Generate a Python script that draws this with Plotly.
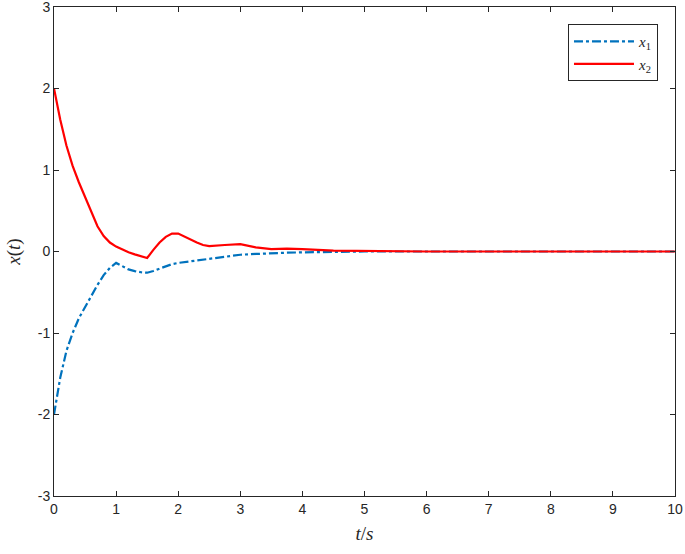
import plotly.graph_objects as go

t = [0, 0.1, 0.2, 0.3, 0.4, 0.5, 0.6, 0.7, 0.8, 0.9, 1.0, 1.1, 1.2, 1.3, 1.4, 1.5,
     1.6, 1.7, 1.8, 1.9, 2.0, 2.1, 2.2, 2.3, 2.4, 2.5, 2.75, 3.0, 3.25, 3.5, 3.75,
     4.0, 4.5, 5, 6, 7, 8, 9, 10]

x1 = [-2.0, -1.55, -1.22, -1.0, -0.82, -0.68, -0.54, -0.41, -0.29, -0.2, -0.14,
      -0.18, -0.22, -0.24, -0.255, -0.26, -0.24, -0.21, -0.18, -0.155, -0.14,
      -0.13, -0.125, -0.115, -0.105, -0.095, -0.065, -0.04, -0.03, -0.02, -0.015,
      -0.01, -0.005, 0, 0, 0, 0, 0, 0]

x2 = [2.0, 1.62, 1.3, 1.05, 0.85, 0.67, 0.47, 0.31, 0.19, 0.11, 0.06, 0.02, -0.01,
      -0.035, -0.06, -0.08, 0.02, 0.11, 0.18, 0.22, 0.22, 0.18, 0.14, 0.11, 0.08,
      0.065, 0.08, 0.09, 0.05, 0.03, 0.035, 0.03, 0.01, 0.005, 0, 0, 0, 0, 0]

x_ticks = [0, 1, 2, 3, 4, 5, 6, 7, 8, 9, 10]
y_ticks = [-3, -2, -1, 0, 1, 2, 3]
y_ticktext = ["-3", "-2", "-1", "0", "1", "2", "3"]

fig = go.Figure()
fig.add_trace(go.Scatter(x=t, y=x1, mode="lines", name="<i>x</i><sub>1</sub>",
                         line=dict(color="#0072BD", width=2.2, dash="dashdot")))
fig.add_trace(go.Scatter(x=t, y=x2, mode="lines", name="<i>x</i><sub>2</sub>",
                         line=dict(color="#FF0000", width=2.2)))

axis_common = dict(showgrid=False, zeroline=False, showline=True, mirror="ticks",
                   linecolor="#262626", linewidth=1, ticks="inside", ticklen=5,
                   tickcolor="#262626", automargin=False, ticklabeloverflow="allow",
                   tickfont=dict(family="Liberation Sans, Arial", size=14, color="#262626"))

fig.update_layout(
    width=685, height=554,
    margin=dict(l=54, r=10, t=7, b=58),
    paper_bgcolor="white", plot_bgcolor="white",
    showlegend=True,
    legend=dict(x=0.9726, y=0.965, xanchor="right", yanchor="top",
                bordercolor="#262626", borderwidth=1, bgcolor="white",
                itemwidth=60,
                font=dict(family="Liberation Serif, serif", size=15, color="#262626"),
                tracegroupgap=0),
    xaxis=dict(range=[0, 10], tickvals=x_ticks,
               title=dict(text="<i>t</i>/<i>s</i>", standoff=10,
                          font=dict(family="Liberation Serif, serif", size=19, color="#262626")),
               **axis_common),
    yaxis=dict(range=[-3, 3], tickvals=y_ticks, ticktext=y_ticktext,
               title=dict(text="<i>x</i>(<i>t</i>)", standoff=12,
                          font=dict(family="Liberation Serif, serif", size=19, color="#262626")),
               **axis_common),
)

fig.write_html("out.html", config={"displayModeBar": False},
               post_script="document.body.style.margin='0px';")
